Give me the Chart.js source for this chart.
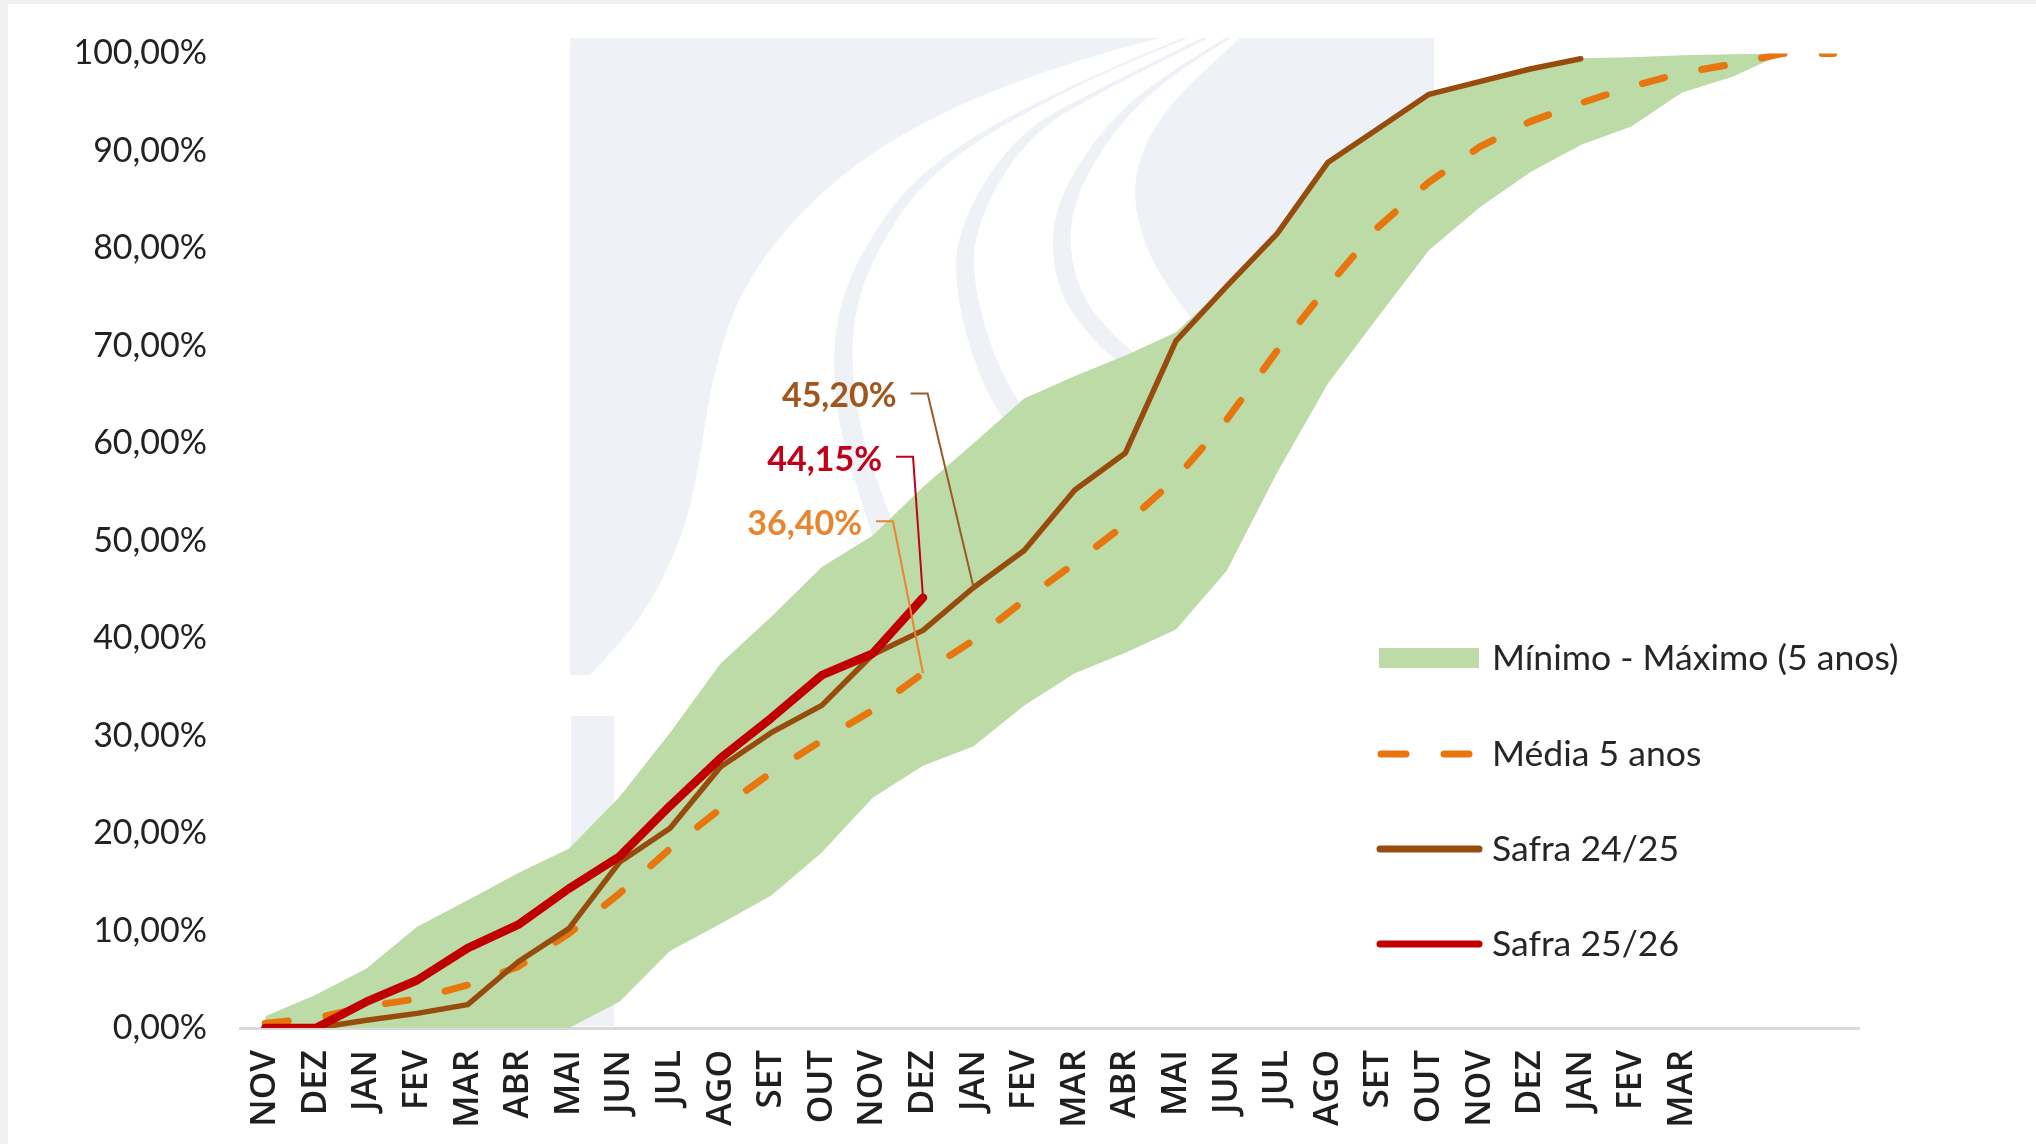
<!DOCTYPE html>
<html>
<head>
<meta charset="utf-8">
<script src="https://cdn.jsdelivr.net/npm/chart.js@4.4.1/dist/chart.umd.min.js"></script>
<style>
html, body { margin: 0; padding: 0; background: #fff; overflow: hidden; }
#wrap { position: relative; width: 2036px; height: 1144px; }
</style>
</head>
<body>
<div id="wrap"><canvas id="chart" width="2036" height="1144"></canvas></div>
<script>
// meses do ano-safra (as 3 últimas posições ficam sem rótulo)
const months = ['NOV','DEZ','JAN','FEV','MAR','ABR','MAI','JUN','JUL','AGO','SET','OUT',
                'NOV','DEZ','JAN','FEV','MAR','ABR','MAI','JUN','JUL','AGO','SET','OUT',
                'NOV','DEZ','JAN','FEV','MAR','','',''];

// % acumulado
const minimo = [0,0,0,0,0,0,0,2.7,7.9,10.7,13.6,18.0,23.6,26.9,28.9,33.1,36.4,38.5,40.9,46.9,
                57.0,66.1,73.0,79.8,84.2,87.8,90.6,92.5,96.0,97.6,100,null];
const maximo = [1.2,3.4,6.1,10.4,13.1,15.9,18.4,23.7,30.3,37.4,42.2,47.3,50.5,55.5,60.0,64.6,
                66.9,69.0,71.4,76.2,81.6,88.9,92.4,95.9,97.2,98.5,99.5,99.6,99.8,99.9,100,null];
const media = [0.5,1.0,2.2,3.0,4.4,6.3,9.7,13.8,18.4,22.5,26.2,29.5,32.6,36.4,39.8,43.9,
               47.7,51.7,56.4,62.4,69.5,76.1,82.2,86.8,90.4,93.0,94.9,96.6,98.0,98.9,100,100];
const safra2425 = [0,0,0.8,1.5,2.4,6.8,10.2,17.0,20.5,26.8,30.3,33.1,38.3,40.8,45.2,49.0,
                   55.2,59.0,70.5,76.1,81.5,88.8,92.3,95.8,97.1,98.4,99.45,null,null,null,null,null];
const safra2526 = [0,0,2.7,4.9,8.2,10.6,14.3,17.6,22.8,27.7,31.8,36.2,38.4,44.15];

const yTicks = [0,10,20,30,40,50,60,70,80,90,100];

function pct(v) {
  return v.toFixed(2).replace('.', ',') + '%';
}

// logo claro ao fundo
function smooth(c, pts, move) {
  if (move) c.moveTo(pts[0][0], pts[0][1]); else c.lineTo(pts[0][0], pts[0][1]);
  for (let i = 1; i < pts.length - 1; i++) {
    const mx = (pts[i][0] + pts[i+1][0]) / 2, my = (pts[i][1] + pts[i+1][1]) / 2;
    c.quadraticCurveTo(pts[i][0], pts[i][1], mx, my);
  }
  const l = pts[pts.length - 1];
  c.lineTo(l[0], l[1]);
}
function band(c, pts, w0, w1) {
  const n = pts.length;
  const left = pts.map((p, i) => [p[0] - (w0 + (w1 - w0) * i / (n - 1)) / 2, p[1]]);
  const right = pts.map((p, i) => [p[0] + (w0 + (w1 - w0) * i / (n - 1)) / 2, p[1]]).reverse();
  c.beginPath();
  smooth(c, left, true);
  smooth(c, right, false);
  c.closePath();
  c.fill();
}
const watermark = {
  id: 'watermark',
  beforeDraw(chart) {
    const c = chart.ctx;
    c.save();
    c.fillStyle = '#F0F0F0';
    c.fillRect(0, 0, chart.width, 4);
    c.fillRect(0, 0, 8, chart.height);
    c.restore();
  },
  beforeDatasetsDraw(chart) {
    const c = chart.ctx;
    c.save();
    c.fillStyle = '#EEF1F6';
    c.beginPath();
    c.moveTo(570, 38);
    smooth(c, [[1160,38],[1110,50],[985,92],[880,145],[800,210],[740,290],[712,377],
               [699,466],[684,533],[646,614],[590,675]], false);
    c.lineTo(570, 675);
    c.closePath();
    c.fill();
    c.fillRect(571, 716, 43, 310);
    band(c, [[1185,38],[1060,90],[927,167],[864,257],[841,332],[847,422],[873,502],[895,565]], 6, 26);
    band(c, [[1205,38],[1100,90],[1019,136],[962,234],[968,310],[996,390],[1025,430]], 6, 27);
    band(c, [[1228,38],[1160,80],[1105,132],[1059,212],[1065,288],[1105,341],[1135,365]], 6, 27);
    c.beginPath();
    c.moveTo(1434, 38);
    c.lineTo(1434, 200);
    c.lineTo(1250, 400);
    smooth(c, [[1200,330],[1174,297],[1142,243],[1131,176],[1163,109],[1240,38]], false);
    c.closePath();
    c.fill();
    c.restore();
  }
};

// rótulos de destaque
const callouts = [
  { ds: 1, idx: 14, color: '#A0561C', line: '#9C5A22', dx: -46, dy: -194 },
  { ds: 0, idx: 13, color: '#C00018', line: '#C00018', dx: -10, dy: -141 },
  { ds: 2, idx: 13, color: '#E8852E', line: '#E8852E', dx: -30, dy: -152 }
];
const calloutPlugin = {
  id: 'callouts',
  afterDatasetsDraw(chart) {
    const c = chart.ctx;
    c.save();
    callouts.forEach(o => {
      const pt = chart.getDatasetMeta(o.ds).data[o.idx];
      const v = chart.data.datasets[o.ds].data[o.idx];
      const cx = pt.x + o.dx, cy = pt.y + o.dy;
      c.strokeStyle = o.line;
      c.lineWidth = 2;
      c.beginPath();
      c.moveTo(cx - 17, cy);
      c.lineTo(cx, cy);
      c.lineTo(pt.x, pt.y);
      c.stroke();
      c.fillStyle = o.color;
      c.font = 'bold 34px Lato';
      c.textAlign = 'right';
      c.textBaseline = 'middle';
      c.fillText(pct(v), cx - 31, cy + 3);
    });
    c.restore();
  }
};

// legenda à direita
const legendRows = [658, 754, 849, 944];
const legendPlugin = {
  id: 'sideLegend',
  afterDraw(chart) {
    const c = chart.ctx;
    const items = chart.data.datasets.filter(d => d.inLegend).sort((a, b) => a.legendRow - b.legendRow);
    c.save();
    items.forEach((d, i) => {
      const y = legendRows[i];
      if (d.fill) {
        c.fillStyle = d.backgroundColor;
        c.fillRect(1379, y - 10, 100, 20);
      } else {
        c.strokeStyle = d.borderColor;
        c.lineWidth = 7;
        c.lineCap = 'round';
        c.beginPath();
        if (d.borderDash) {
          c.moveTo(1381, y); c.lineTo(1406, y);
          c.moveTo(1444, y); c.lineTo(1469, y);
        } else {
          c.moveTo(1380, y); c.lineTo(1479, y);
        }
        c.stroke();
      }
      c.fillStyle = '#262626';
      c.font = '35.6px Lato';
      c.textAlign = 'left';
      c.textBaseline = 'middle';
      c.fillText(d.label, 1492, y + 1);
    });
    c.restore();
  }
};

const ctx = document.getElementById('chart').getContext('2d');
new Chart(ctx, {
  type: 'line',
  data: {
    labels: months,
    datasets: [
      { label: 'Safra 25/26', data: safra2526, borderColor: '#C00000', borderWidth: 8.5,
        borderCapStyle: 'round', order: 0, inLegend: true, legendRow: 3 },
      { label: 'Safra 24/25', data: safra2425, borderColor: '#974B0C', borderWidth: 5.5,
        borderCapStyle: 'round', order: 1, inLegend: true, legendRow: 2 },
      { label: 'Média 5 anos', data: media, borderColor: '#E8760E', borderWidth: 7,
        borderDash: [23, 38], borderCapStyle: 'round', order: 2, inLegend: true, legendRow: 1,
        clip: { left: 20, top: 0, right: 20, bottom: 20 } },
      { label: 'Mínimo - Máximo (5 anos)', data: maximo, borderWidth: 0, borderColor: 'rgba(0,0,0,0)',
        backgroundColor: '#BCDBA6', fill: '+1', order: 3, inLegend: true, legendRow: 0 },
      { label: 'Mínimo', data: minimo, borderWidth: 0, borderColor: 'rgba(0,0,0,0)', fill: false, order: 4 }
    ]
  },
  options: {
    responsive: false,
    animation: false,
    devicePixelRatio: 1,
    layout: { padding: { top: 53, right: 177, left: 0, bottom: 0 } },
    elements: {
      point: { radius: 0, hoverRadius: 0 },
      line: { tension: 0, borderJoinStyle: 'round' }
    },
    plugins: { legend: { display: false }, tooltip: { enabled: false } },
    scales: {
      x: {
        offset: true,
        grid: { display: false, drawTicks: false },
        border: { display: true, color: '#D9D9D9', width: 3 },
        ticks: { autoSkip: false, maxRotation: 90, minRotation: 90, padding: 22, color: '#1f1f1f',
                 font: { family: 'Open Sans', size: 35, weight: '600' } },
        afterFit(s) { s.height = 116; }
      },
      y: {
        min: 0, max: 100,
        grid: { display: false, drawTicks: false },
        border: { display: false },
        afterBuildTicks(s) { s.ticks = yTicks.map(v => ({ value: v })); },
        ticks: { padding: 33, color: '#222', font: { family: 'Lato', size: 34 },
                 callback: v => pct(v) },
        afterFit(s) { s.width = 240; }
      }
    }
  },
  plugins: [watermark, calloutPlugin, legendPlugin]
});
</script>
</body>
</html>
